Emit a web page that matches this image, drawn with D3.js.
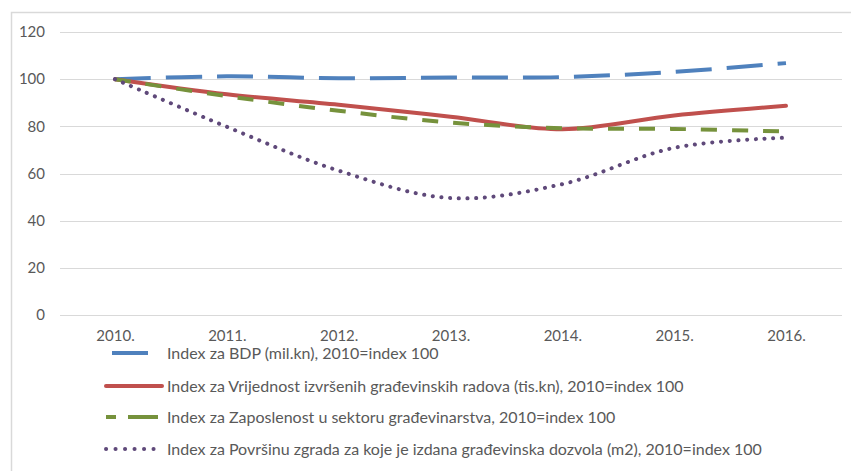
<!DOCTYPE html>
<html>
<head>
<meta charset="utf-8">
<script src="https://cdn.jsdelivr.net/npm/d3@7"></script>
<style>
  body { margin: 0; background: #fff; }
  text { font-family: Lato, "Open Sans", sans-serif; fill: #595959; }
</style>
</head>
<body>
<script>
(function () {

  // Categories (years) and series values
  let years = ['2010.', '2011.', '2012.', '2013.', '2014.', '2015.', '2016.'];

  let bdp         = [100, 101.2, 100.4, 100.7, 100.9, 103.1, 106.8];
  let vrijednost  = [100, 93.6, 89.2, 84.1, 78.8, 84.6, 88.7];
  let zaposlenost = [100, 92.8, 86.6, 81.6, 79.2, 78.9, 77.8];
  let povrsina    = [100, 79.8, 61.2, 49.6, 55.5, 70.9, 75.2];

  let yTicks = [0, 20, 40, 60, 80, 100, 120];

  let seriesNames = [
    'Index za BDP (mil.kn), 2010=index 100',
    'Index za Vrijednost izvršenih građevinskih radova (tis.kn), 2010=index 100',
    'Index za Zaposlenost u sektoru građevinarstva, 2010=index 100',
    'Index za Površinu zgrada za koje je izdana građevinska dozvola (m2), 2010=index 100'
  ];

  let styles = [
    { color: '#4f81bd', dash: '36,15', cap: 'butt' },
    { color: '#c0504d', dash: null, cap: 'round' },
    { color: '#76923c', dash: '16,15', cap: 'butt' },
    { color: '#5f497a', dash: '0.1,8.6', cap: 'round' }
  ];

  let series = [bdp, vrijednost, zaposlenost, povrsina].map((v, i) => ({
    name: seriesNames[i], values: v, style: styles[i]
  }));

  let width = 851, height = 471;
  let plot = { left: 60, right: 842, top: 32, bottom: 315 };

  let svg = d3.select('body').append('svg')
      .attr('width', width)
      .attr('height', height);

  // Chart area border (top and left visible, rest runs off the picture)
  svg.append('path')
    .attr('d', 'M11.5,' + height + 'V12.5H' + width)
    .attr('fill', 'none')
    .attr('stroke', '#d9d9d9')
    .attr('stroke-width', 1.5);

  let x = d3.scalePoint().domain(years).range([115, 786]);
  let y = d3.scaleLinear().domain([0, 120]).range([plot.bottom, plot.top]);

  // Gridlines
  svg.append('g').selectAll('line').data(yTicks).enter().append('line')
    .attr('x1', plot.left).attr('x2', plot.right)
    .attr('y1', d => Math.round(y(d)) + 0.5).attr('y2', d => Math.round(y(d)) + 0.5)
    .attr('stroke', '#d9d9d9')
    .attr('stroke-width', 1);

  // Y axis labels
  let yAxis = d3.axisLeft(y).tickValues(yTicks).tickSize(0).tickPadding(0);
  let gy = svg.append('g').attr('transform', 'translate(45,0)').call(yAxis);
  gy.select('.domain').remove();
  gy.selectAll('text').style('font-size', '15px').attr('fill', '#595959')
    .style('font-family', 'Lato, sans-serif');

  // X axis labels
  let xAxis = d3.axisBottom(x).tickSize(0).tickPadding(0);
  let gx = svg.append('g').attr('transform', 'translate(0,330)').call(xAxis);
  gx.select('.domain').remove();
  gx.selectAll('text').style('font-size', '15px').attr('fill', '#595959')
    .style('font-family', 'Lato, sans-serif');

  // Lines, smoothed like the original
  let line = d3.line()
      .x((d, i) => x(years[i]))
      .y(d => y(d))
      .curve(d3.curveCatmullRom.alpha(0.5));

  svg.append('g').selectAll('path').data(series).enter().append('path')
    .attr('d', d => line(d.values))
    .attr('fill', 'none')
    .attr('stroke', d => d.style.color)
    .attr('stroke-width', 4)
    .attr('stroke-linecap', d => d.style.cap)
    .attr('stroke-dasharray', d => d.style.dash);

  // Legend
  let rowY = [353, 386, 417, 449];
  let legend = svg.append('g').attr('class', 'legend');
  let items = legend.selectAll('g').data(series).enter().append('g')
      .attr('transform', (d, i) => 'translate(0,' + rowY[i] + ')');

  items.append('line')
    .attr('x1', (d, i) => i === 0 ? 112 : 106)
    .attr('x2', (d, i) => i === 0 ? 148 : 162)
    .attr('y1', 0).attr('y2', 0)
    .attr('stroke', d => d.style.color)
    .attr('stroke-width', 4)
    .attr('stroke-linecap', d => d.style.cap)
    .attr('stroke-dasharray', (d, i) => i === 2 ? '10,12,30' : (i === 3 ? '0.1,9.4' : null));

  items.append('text')
    .attr('x', 167)
    .attr('y', 6)
    .style('font-size', '16px')
    .text(d => d.name);

})();
</script>
</body>
</html>
